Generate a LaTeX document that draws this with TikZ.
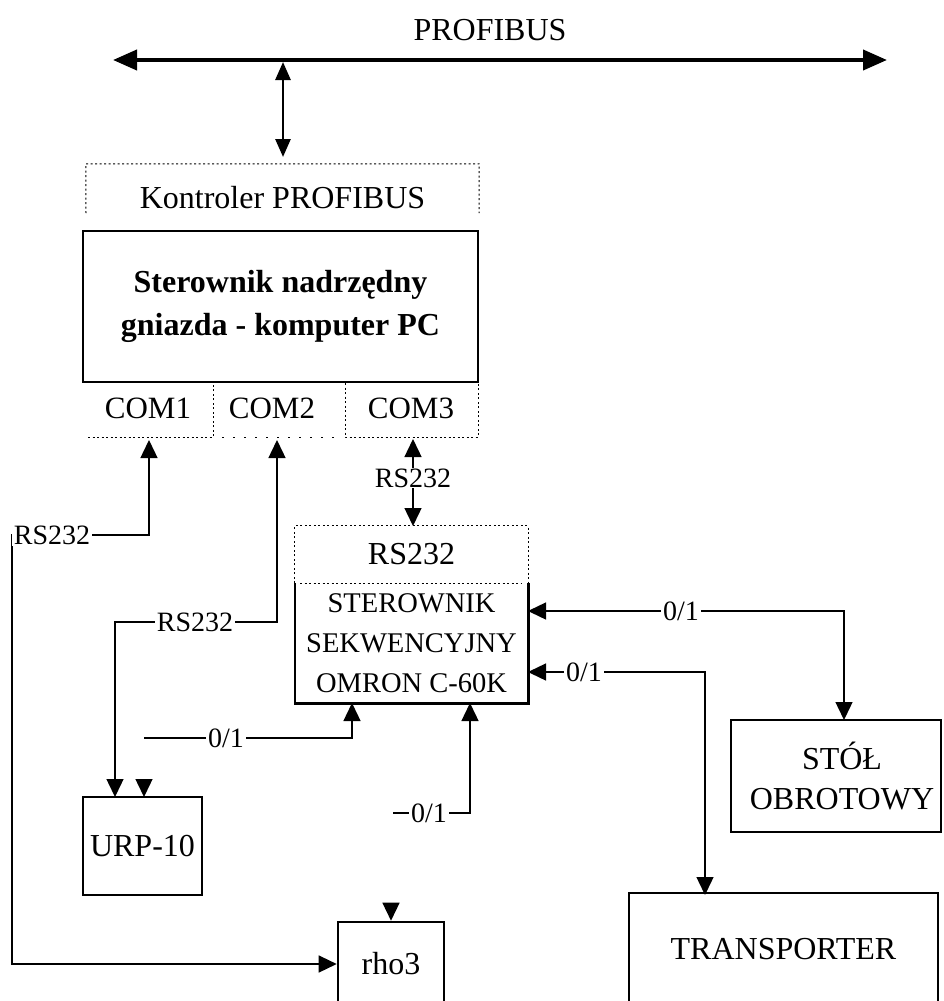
\documentclass[tikz,border=0pt]{standalone}
\usepackage{fontspec}
\setmainfont{Liberation Serif}
\usetikzlibrary{arrows.meta}
\begin{document}
\begin{tikzpicture}[x=1pt,y=-1pt,
  box/.style={draw, line width=2.6pt, inner sep=0pt, align=center},
  big/.style={font=\fontsize{32}{40}\selectfont, inner sep=0pt, align=center},
  lab/.style={fill=white, inner sep=2pt, font=\fontsize{28}{34}\selectfont},
  conn/.style={line width=1.4pt},
  arr/.style={-{Triangle[length=18pt,width=17pt]}},
  darr/.style={{Triangle[length=18pt,width=17pt]}-{Triangle[length=18pt,width=17pt]}},
  dots/.style={line width=1pt, dash pattern=on 2pt off 2.5pt},
]
\useasboundingbox (0,0) rectangle (943,1001);
\clip (0,0) rectangle (943,1001);

% bus
\node[big] (title) at (490,30) {PROFIBUS};
\coordinate (busL) at (113,60);
\coordinate (busR) at (887,60);
\draw[line width=4pt, {Triangle[length=24pt,width=20pt]}-{Triangle[length=24pt,width=20pt]}] (busL) -- (busR);

% Kontroler PROFIBUS
\node[big, minimum width=393pt, minimum height=67pt] (kont) at (282.5,197.5) {Kontroler PROFIBUS};
\draw[dots] (86,213) -- (kont.north west) -- (kont.north east) -- (479,213);
\coordinate (tap) at (283,62);
\coordinate (kontin) at (283,157);
\draw[line width=2.8pt, {Triangle[length=18pt,width=15pt]}-{Triangle[length=18pt,width=15pt]}] (tap) -- (kontin);

% main PC box
\node[box, font=\fontsize{32}{43}\selectfont\bfseries, minimum width=395pt, minimum height=151pt] (pc) at (280.5,306.5) {Sterownik nadrzędny\\gniazda - komputer PC};

% COM ports
\node[big, font=\fontsize{31}{40}\selectfont] (com1) at (148,408) {COM1};
\node[big, font=\fontsize{31}{40}\selectfont] (com2) at (272,408) {COM2};
\node[big, font=\fontsize{31}{40}\selectfont] (com3) at (411,408) {COM3};
\draw[dots] (88,437) -- (213,437) -- (213,383);
\draw[dots, dash pattern=on 2pt off 9pt] (222,437) -- (340,437);
\draw[dots] (345,383) -- (345,437) -- (478,437) -- (478,383);

% Omron
\node[big, minimum width=233pt, minimum height=57pt] (omrhead) at (411.5,554.5) {RS232};
\draw[dots] (omrhead.south west) -- (omrhead.north west) -- (omrhead.north east) -- (omrhead.south east);
\draw[dots] (300,583) -- (522,583);
\node[align=center, inner sep=0pt, font=\fontsize{28.5}{40}\selectfont, minimum width=233pt, minimum height=120pt] (omron) at (411.5,643) {STEROWNIK\\SEKWENCYJNY\\OMRON C-60K};
\draw[line width=2.6pt] (omron.north west) -- (omron.south west) -- (omron.south east) -- (omron.north east);

% other boxes
\node[box, big, minimum width=119pt, minimum height=98pt] (urp) at (142.5,846) {URP-10};
\node[box, big, minimum width=106pt, minimum height=84pt] (rho3) at (391,964) {rho3};
\node[box, big, minimum width=210pt, minimum height=112pt] (stol) at (836,776) {\hspace*{12pt}STÓŁ\\\hspace*{12pt}OBROTOWY};
\node[box, big, minimum width=309pt, minimum height=116pt] (trans) at (783.5,951) {\raisebox{4pt}{TRANSPORTER}};

% connection points
\coordinate (c1) at (149,440);
\coordinate (c2) at (277,440);
\coordinate (c3) at (413,439);
\coordinate (o3) at (413,526);
\coordinate (u1) at (115,797);
\coordinate (u2) at (144,797);
\coordinate (u2s) at (144,780);
\coordinate (r1s) at (391,903);
\coordinate (ob1) at (352,703);
\coordinate (ob2) at (470,703);
\coordinate (f1) at (144,738);
\coordinate (f2) at (393,813);
\coordinate (or1) at (528,611);
\coordinate (or2) at (528,672);
\coordinate (sin) at (844,720);
\coordinate (tin) at (705,895);

% COM1 <-> rho3
\draw[conn, darr] (c1) |- (12,535) |- (rho3.west);
\node[lab] (l1) at (52,535) {RS232};
% COM2 <-> URP-10
\draw[conn, darr] (c2) |- (115,622) -- (u1);
\node[lab] (l2) at (195,622) {RS232};
\draw[conn, arr] (u2s) -- (u2);
% COM3 <-> Omron
\draw[conn, darr] (c3) -- (o3);
\node[lab, inner sep=1pt] (l3) at (413,478) {RS232};
% bottom inputs of Omron
\draw[conn, arr] (f1) -| (ob1);
\node[lab] (l4) at (226,738) {0/1};
\draw[conn, arr] (f2) -| (ob2);
\node[lab] (l5) at (429,813) {0/1};
% right side
\draw[conn, darr] (or1) -| (sin);
\node[lab] (l6) at (681,611) {0/1};
\draw[conn, darr] (or2) -| (tin);
\node[lab] (l7) at (584,672) {0/1};
% rho3 top
\draw[conn, arr] (r1s) -- (rho3.north);
\end{tikzpicture}
\end{document}
